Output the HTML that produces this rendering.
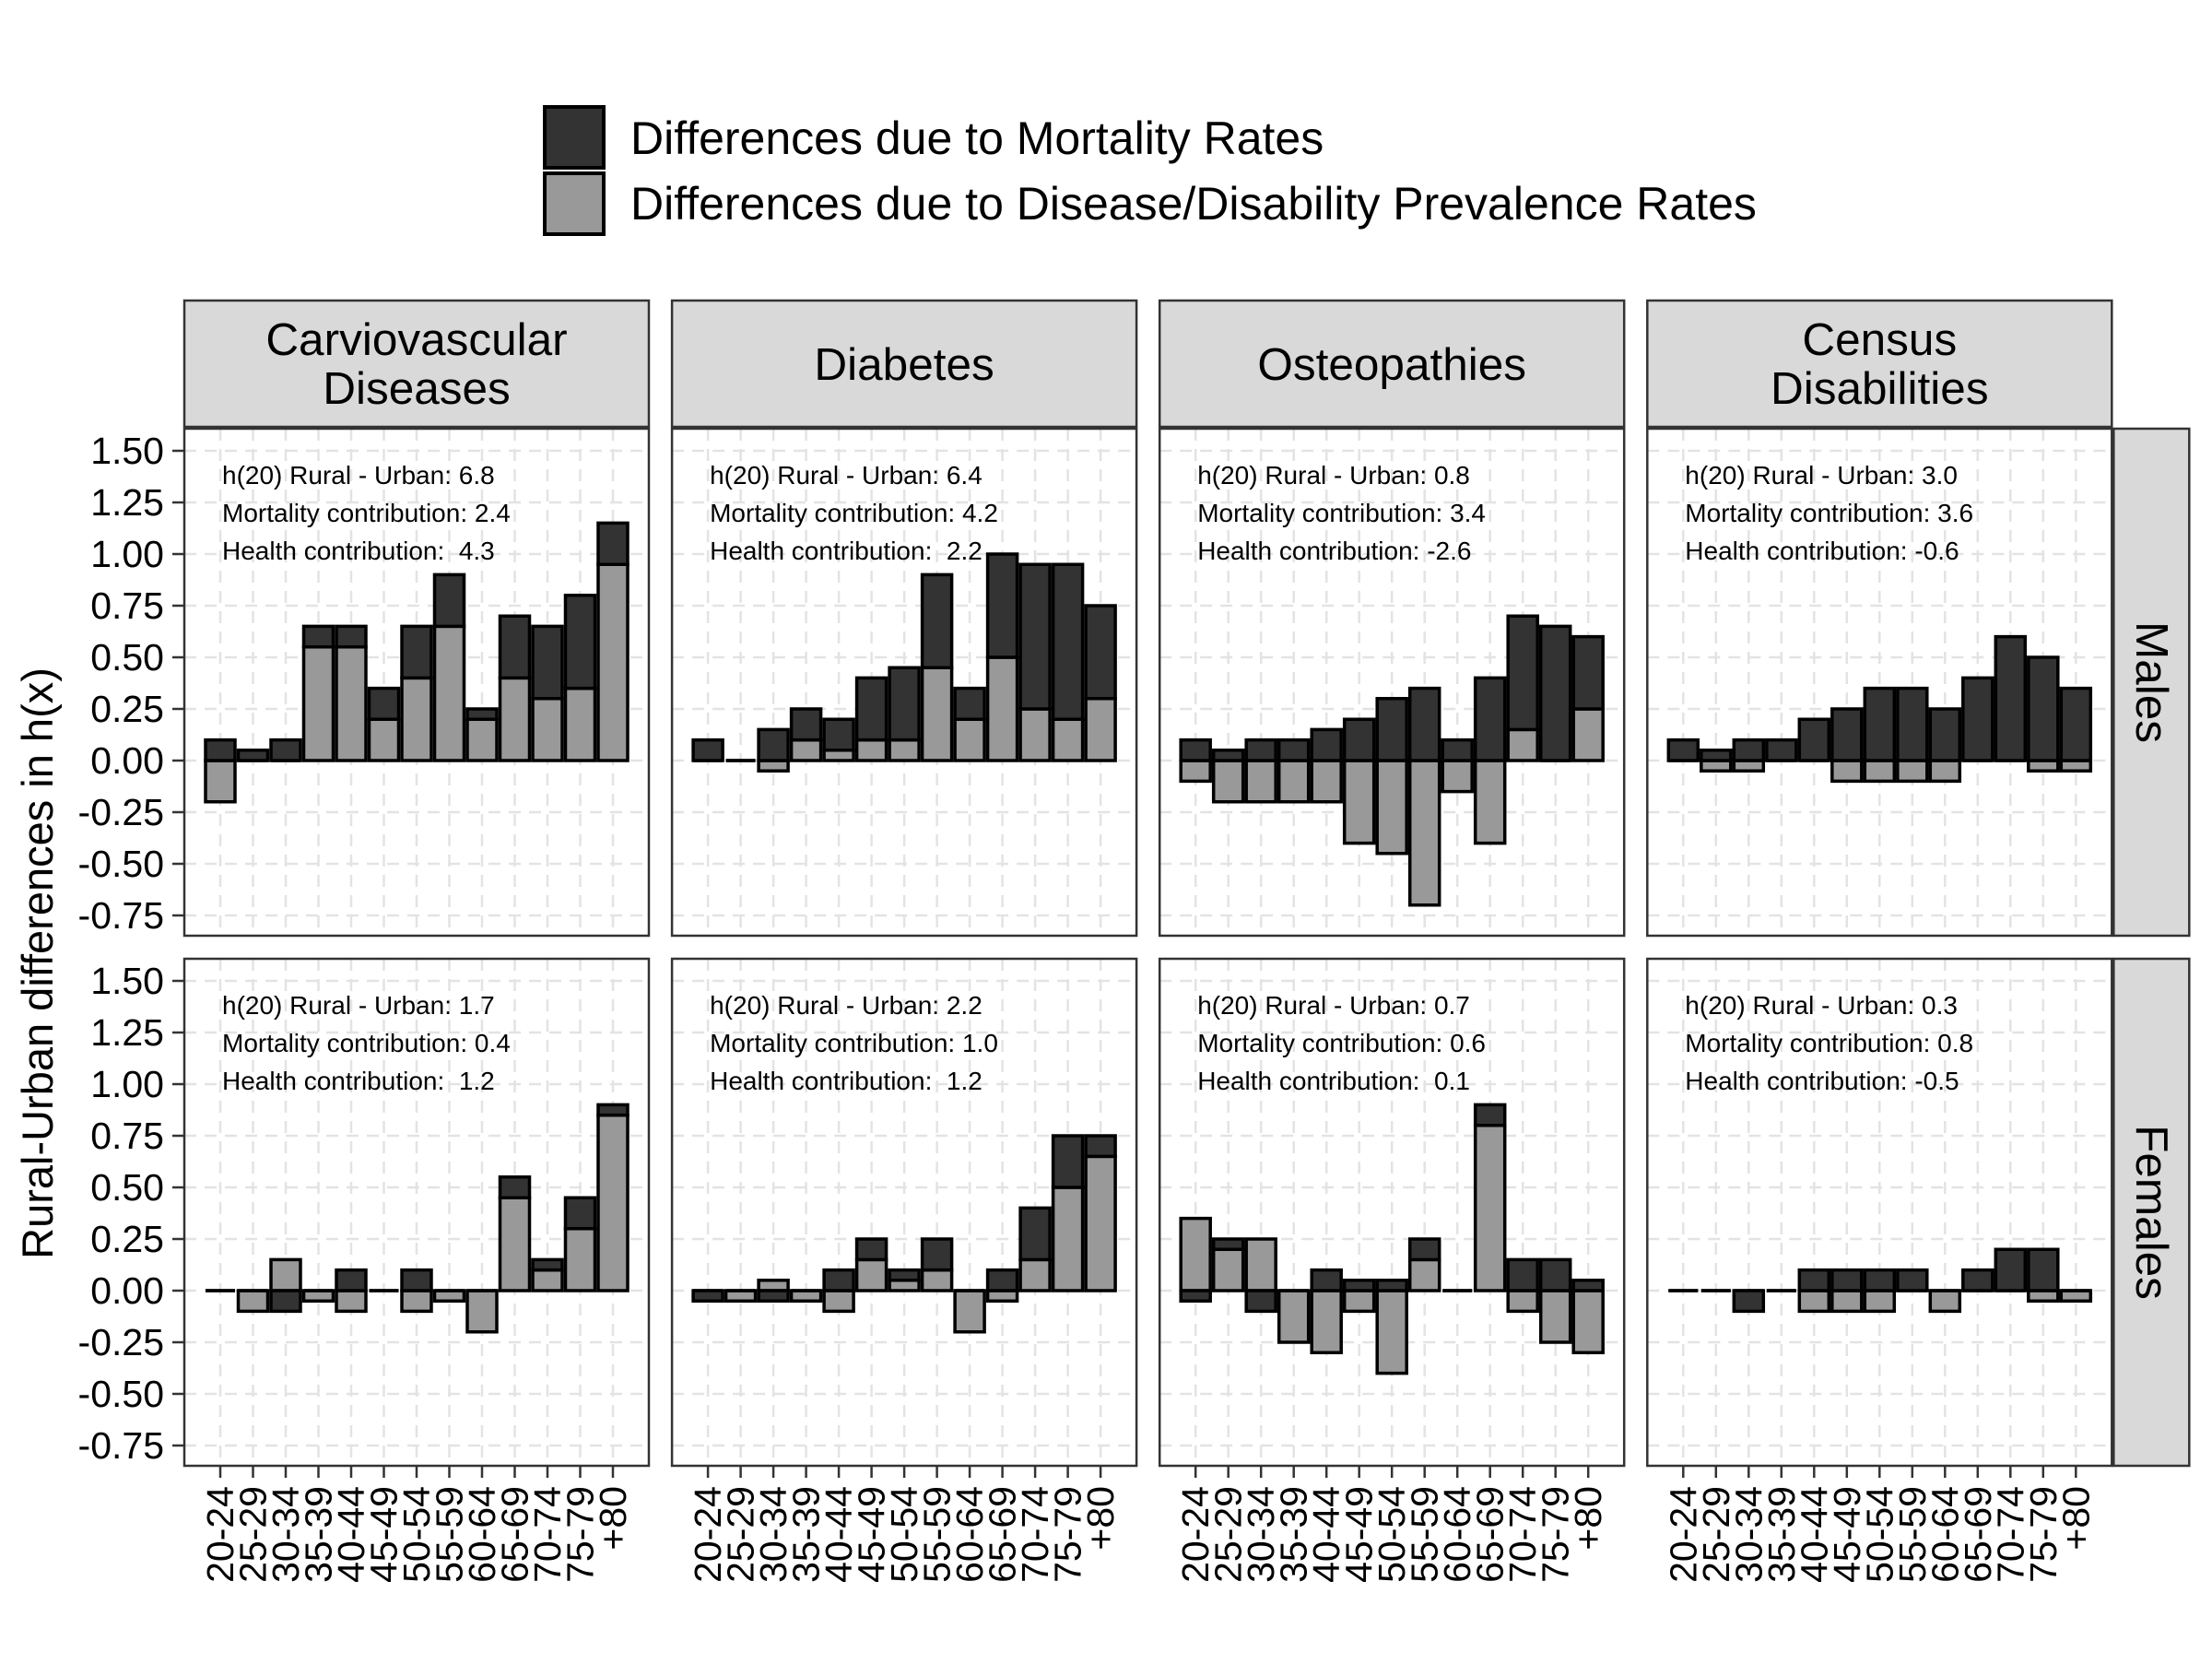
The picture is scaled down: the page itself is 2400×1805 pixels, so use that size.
<!DOCTYPE html>
<html><head><meta charset="utf-8"><title>Rural-Urban differences in h(x)</title>
<style>
html,body{margin:0;padding:0;background:#fff;}
svg text{font-family:"Liberation Sans",Arial,sans-serif;fill:#000;}
</style></head>
<body>
<svg id="chart" xmlns="http://www.w3.org/2000/svg" width="2400" height="1800" viewBox="0 0 2400 1800">
<rect x="0" y="0" width="2400" height="1800" fill="#fff"/>
<g>
  <rect x="591" y="116" width="64" height="66" fill="#333333" stroke="#000" stroke-width="4"/>
  <text x="684" y="167" font-size="50">Differences due to Mortality Rates</text>
  <rect x="591" y="188" width="64" height="66" fill="#999999" stroke="#000" stroke-width="4"/>
  <text x="684" y="238" font-size="50">Differences due to Disease/Disability Prevalence Rates</text>
</g>
<text transform="translate(57,1045) rotate(-90)" text-anchor="middle" font-size="47">Rural-Urban differences in h(x)</text>
<g id="panels"></g>
</svg>
<script>
const categories = ["20-24","25-29","30-34","35-39","40-44","45-49","50-54","55-59","60-64","65-69","70-74","75-79","+80"];
const yTicks = [1.5,1.25,1.0,0.75,0.5,0.25,0,-0.25,-0.5,-0.75];
const yTickLabels = ["1.50","1.25","1.00","0.75","0.50","0.25","0.00","-0.25","-0.50","-0.75"];
const diseaseLabels = [["Carviovascular","Diseases"],["Diabetes"],["Osteopathies"],["Census","Disabilities"]];
const sexLabels = ["Males","Females"];

const maleCvdMort   = [0.1,0.05,0.1,0.1,0.1,0.15,0.25,0.25,0.05,0.3,0.35,0.45,0.2];
const maleCvdHealth = [-0.2,0,0,0.55,0.55,0.2,0.4,0.65,0.2,0.4,0.3,0.35,0.95];
const maleDiaMort   = [0.1,0,0.15,0.15,0.15,0.3,0.35,0.45,0.15,0.5,0.7,0.75,0.45];
const maleDiaHealth = [0,0,-0.05,0.1,0.05,0.1,0.1,0.45,0.2,0.5,0.25,0.2,0.3];
const maleOstMort   = [0.1,0.05,0.1,0.1,0.15,0.2,0.3,0.35,0.1,0.4,0.55,0.65,0.35];
const maleOstHealth = [-0.1,-0.2,-0.2,-0.2,-0.2,-0.4,-0.45,-0.7,-0.15,-0.4,0.15,0,0.25];
const maleCenMort   = [0.1,0.05,0.1,0.1,0.2,0.25,0.35,0.35,0.25,0.4,0.6,0.5,0.35];
const maleCenHealth = [0,-0.05,-0.05,0,0,-0.1,-0.1,-0.1,-0.1,0,0,-0.05,-0.05];
const femCvdMort    = [0,0,-0.1,0,0.1,0,0.1,0,0,0.1,0.05,0.15,0.05];
const femCvdHealth  = [0,-0.1,0.15,-0.05,-0.1,0,-0.1,-0.05,-0.2,0.45,0.1,0.3,0.85];
const femDiaMort    = [-0.05,0,-0.05,0,0.1,0.1,0.05,0.15,0,0.1,0.25,0.25,0.1];
const femDiaHealth  = [0,-0.05,0.05,-0.05,-0.1,0.15,0.05,0.1,-0.2,-0.05,0.15,0.5,0.65];
const femOstMort    = [-0.05,0.05,-0.1,0,0.1,0.05,0.05,0.1,0,0.1,0.15,0.15,0.05];
const femOstHealth  = [0.35,0.2,0.25,-0.25,-0.3,-0.1,-0.4,0.15,0,0.8,-0.1,-0.25,-0.3];
const femCenMort    = [0,0,-0.1,0,0.1,0.1,0.1,0.1,0,0.1,0.2,0.2,0];
const femCenHealth  = [0,0,0,0,-0.1,-0.1,-0.1,0,-0.1,0,0,-0.05,-0.05];

const h20Total  = [["6.8","6.4","0.8","3.0"],["1.7","2.2","0.7","0.3"]];
const mortTotal = [["2.4","4.2","3.4","3.6"],["0.4","1.0","0.6","0.8"]];
const healthTotal = [[" 4.3"," 2.2","-2.6","-0.6"],[" 1.2"," 1.2"," 0.1","-0.5"]];

const mortSeries = [[maleCvdMort,maleDiaMort,maleOstMort,maleCenMort],[femCvdMort,femDiaMort,femOstMort,femCenMort]];
const healthSeries = [[maleCvdHealth,maleDiaHealth,maleOstHealth,maleCenHealth],[femCvdHealth,femDiaHealth,femOstHealth,femCenHealth]];

const NS = "http://www.w3.org/2000/svg";
const root = document.getElementById("panels");
const PW = 504, PH = 550, ROW_TOP = [465, 1040], COL_LEFT0 = 200, COL_STEP = 529.1;
const UNIT = 224, ZERO_OFF = 360, CAT_PAD = 39, CAT_STEP = 35.5, BAR_W = 32;
function xScale(col, i){ return COL_LEFT0 + col*COL_STEP + CAT_PAD + i*CAT_STEP; }
function yScale(row, v){ return ROW_TOP[row] + ZERO_OFF - v*UNIT; }
function mk(tag, attrs, parent){ const e=document.createElementNS(NS,tag); for(const k in attrs) e.setAttribute(k,attrs[k]); (parent||root).appendChild(e); return e; }

for(let row=0; row<2; row++){
  for(let col=0; col<4; col++){
    const L = COL_LEFT0 + col*COL_STEP, T = ROW_TOP[row];
    const g = mk("g",{});
    
    
    const bg = mk("rect",{x:L,y:T,width:PW,height:PH,fill:"#fff"},g);
    
    
    yTicks.forEach(v=>{
      const ln = mk("line",{x1:L,x2:L+PW,y1:yScale(row,v),y2:yScale(row,v),stroke:"#e3e3e3","stroke-width":2.5,"stroke-dasharray":"13 9"},g);
      
      
    });
    categories.forEach((c,i)=>{
      const ln = mk("line",{x1:xScale(col,i),x2:xScale(col,i),y1:T,y2:T+PH,stroke:"#e3e3e3","stroke-width":2.5,"stroke-dasharray":"13 9"},g);
      
      
    });
    const ms = mortSeries[row][col], hs = healthSeries[row][col];
    categories.forEach((c,i)=>{
      let pos=0, neg=0;
      const parts = [[hs[i],"#999999","health"],[ms[i],"#333333","mortality"]];
      parts.forEach(p=>{
        const v=p[0]; let a,b;
        if(v>=0){ a=pos; b=pos+v; pos=b; } else { a=neg; b=neg+v; neg=b; }
        const y1=yScale(row,Math.max(a,b)), y2=yScale(row,Math.min(a,b));
        const x0=xScale(col,i)-BAR_W/2;
        const bar = mk("path",{d:`M${x0},${y1}H${x0+BAR_W}V${y2}H${x0}Z`,fill:p[1],stroke:"#000","stroke-width":3.5,"stroke-linejoin":"miter"},g);
        
        
      });
    });
    const lines = ["h(20) Rural - Urban: "+h20Total[row][col],"Mortality contribution: "+mortTotal[row][col],"Health contribution: "+healthTotal[row][col]];
    const offs=[60,101,142];
    lines.forEach((t,k)=>{
      const tx = mk("text",{x:L+41,y:T+offs[k],"font-size":28,style:"white-space:pre"},g);
      tx.textContent = t;
      
      
    });
    const border = mk("rect",{x:L,y:T,width:PW,height:PH,fill:"none",stroke:"#333","stroke-width":2.5},g);
    
    
    if(row===0){
      const st = mk("rect",{x:L,y:326,width:PW,height:137,fill:"#d9d9d9",stroke:"#333","stroke-width":2.5},g);
      
      
      const lab = diseaseLabels[col];
      const ys = lab.length===2 ? [385,438] : [412];
      lab.forEach((t,k)=>{
        const tx = mk("text",{x:L+PW/2,y:ys[k],"font-size":49.5,"text-anchor":"middle"},g);
        tx.textContent = t;
        
        
      });
    }
    if(col===3){
      const st = mk("rect",{x:L+PW+2,y:T,width:82,height:PH,fill:"#d9d9d9",stroke:"#333","stroke-width":2.5},g);
      
      
      const tx = mk("text",{transform:`translate(${L+PW+43},${T+PH/2}) rotate(90)`,"font-size":49.5,"text-anchor":"middle","dominant-baseline":"central"},g);
      tx.textContent = sexLabels[row];
      
      
    }
    if(col===0){
      yTicks.forEach((v,k)=>{
        const tk = mk("line",{x1:L-13,x2:L,y1:yScale(row,v),y2:yScale(row,v),stroke:"#333","stroke-width":2.5},g);
        
        
        const tl = mk("text",{x:L-22,y:yScale(row,v),"font-size":41,"text-anchor":"end","dominant-baseline":"central"},g);
        tl.textContent = yTickLabels[k];
        
        
      });
    }
    if(row===1){
      categories.forEach((c,i)=>{
        const x=xScale(col,i);
        const tk = mk("line",{x1:x,x2:x,y1:T+PH,y2:T+PH+13,stroke:"#333","stroke-width":2.5},g);
        
        
        const tl = mk("text",{transform:`translate(${x},${T+PH+22}) rotate(-90)`,"font-size":41,"text-anchor":"end","dominant-baseline":"central"},g);
        tl.textContent = c;
        
        
      });
    }
  }
}
</script>
</body></html>
